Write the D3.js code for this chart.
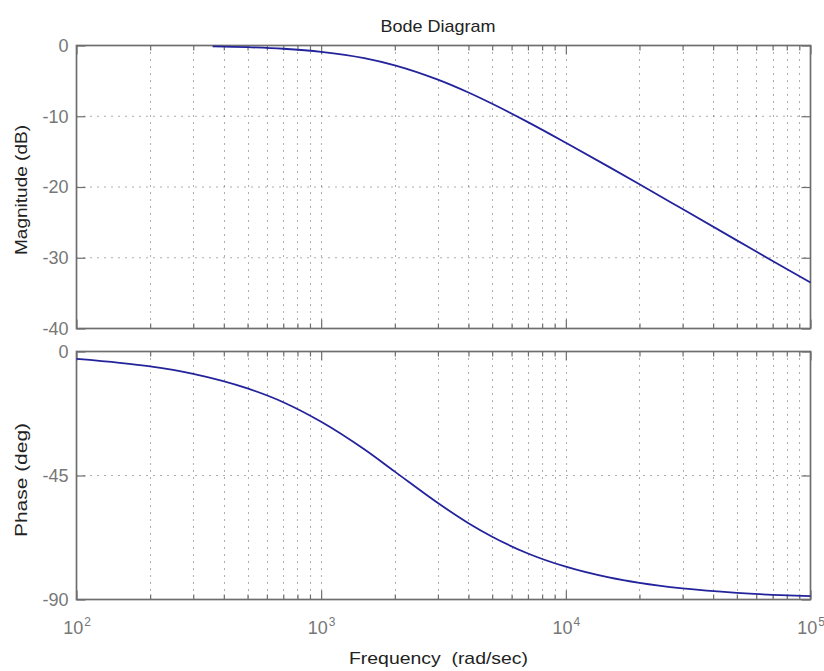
<!DOCTYPE html>
<html>
<head>
<meta charset="utf-8">
<script src="https://cdn.jsdelivr.net/npm/d3@7"></script>
<style>
  html, body { margin: 0; padding: 0; background: #fff; }
  svg { display: block; font-family: "Liberation Sans", Arial, sans-serif; }
</style>
</head>
<body>
<svg id="chart" width="824" height="671"></svg>
<script>
// ---- Data ----
const magFreq = [360, 500, 700, 1000, 1500, 2000, 3000, 4000, 5000, 7000, 10000, 15000, 20000, 30000, 50000, 70000, 100000];
const magDb   = [-0.13, -0.24, -0.46, -0.89, -1.78, -2.8, -4.83, -6.65, -8.24, -10.83, -13.75, -17.16, -19.62, -23.12, -27.54, -30.46, -33.5];

const phaseFreq = [100, 150, 200, 300, 500, 700, 1000, 1500, 2000, 3000, 4000, 5000, 7000, 10000, 15000, 20000, 30000, 50000, 70000, 100000];
const phaseDeg  = [-2.7, -4.1, -5.4, -8.1, -13.4, -18.4, -25.5, -35.5, -43.6, -55.0, -62.3, -67.2, -73.3, -78.1, -82.0, -84.0, -86.0, -87.6, -88.3, -88.8];

const magTicks = [0, -10, -20, -30, -40];
const phaseTicks = [0, -45, -90];
const decadeTicks = [100, 1000, 10000, 100000];
const decadeExponents = ["2", "3", "4", "5"];
const minorMultipliers = [2, 3, 4, 5, 6, 7, 8, 9];

const titleText = "Bode Diagram";
const xLabelText = "Frequency  (rad/sec)";
const magLabelText = "Magnitude (dB)";
const phaseLabelText = "Phase (deg)";

// ---- Layout ----
const svg = d3.select("#chart");
const left = 76.5, right = 810.5;
const panels = [
  { top: 45.5, bottom: 328.5, domain: [-40, 0], ticks: magTicks, freq: magFreq, vals: magDb, label: magLabelText, labelY: 190, labelLen: 130, showX: false },
  { top: 351.5, bottom: 599.5, domain: [-90, 0], ticks: phaseTicks, freq: phaseFreq, vals: phaseDeg, label: phaseLabelText, labelY: 480, labelLen: 114, showX: true }
];

const x = d3.scaleLog().domain([100, 100000]).range([left, right]);
const minorTicks = [];
decadeTicks.slice(0, -1).forEach(d => minorMultipliers.forEach(m => minorTicks.push(d * m)));

const gridColor = "#333";
const frameColor = "#6e6e6e";
const tickLabelColor = "#777";
const lineColor = "#23239c";

panels.forEach(p => {
  const y = d3.scaleLinear().domain(p.domain).range([p.bottom, p.top]);
  const g = svg.append("g");

  // grid
  const gridX = minorTicks.concat(decadeTicks.slice(1, -1));
  g.append("g").selectAll("line").data(gridX).join("line")
    .attr("x1", d => Math.round(x(d)) + 0.5).attr("x2", d => Math.round(x(d)) + 0.5)
    .attr("y1", p.top).attr("y2", p.bottom)
    .attr("stroke", gridColor).attr("stroke-width", 1).attr("stroke-dasharray", "1,6").attr("opacity", 0.8);
  g.append("g").selectAll("line").data(p.ticks).join("line")
    .attr("x1", left).attr("x2", right)
    .attr("y1", d => y(d)).attr("y2", d => y(d))
    .attr("stroke", gridColor).attr("stroke-width", 1).attr("stroke-dasharray", "1,6").attr("opacity", 0.8);

  // frame
  g.append("rect").attr("x", left).attr("y", p.top).attr("width", right - left).attr("height", p.bottom - p.top)
    .attr("fill", "none").attr("stroke", frameColor).attr("stroke-width", 1.7);

  const styleAxis = sel => {
    sel.select(".domain").remove();
    sel.selectAll(".tick line").attr("stroke", frameColor).attr("stroke-width", 1.2);
  };
  // x ticks bottom (major + minor) and top
  const xb = g.append("g").attr("transform", `translate(0,${p.bottom})`)
    .call(d3.axisBottom(x).tickValues(decadeTicks).tickSize(-9).tickPadding(12).tickFormat(() => "10"))
    .call(styleAxis);
  xb.append("g").call(d3.axisBottom(x).tickValues(minorTicks).tickSize(-5).tickFormat("")).call(styleAxis);
  if (p.showX) {
    xb.selectAll(".tick text")
      .attr("fill", tickLabelColor).attr("font-size", 18).attr("font-family", "Liberation Sans, Arial, sans-serif")
      .attr("dy", "1.25em")
      .each(function(d, i) {
        d3.select(this).append("tspan").attr("dy", "-0.7em").attr("dx", "1").attr("font-size", 12).text(decadeExponents[i]);
      });
  } else {
    xb.selectAll(".tick text").remove();
  }
  const xt = g.append("g").attr("transform", `translate(0,${p.top})`)
    .call(d3.axisTop(x).tickValues(decadeTicks).tickSize(-9).tickFormat(""))
    .call(styleAxis);
  xt.append("g").call(d3.axisTop(x).tickValues(minorTicks).tickSize(-5).tickFormat("")).call(styleAxis);

  // y ticks left with labels, right without
  const yl = g.append("g").attr("transform", `translate(${left},0)`)
    .call(d3.axisLeft(y).tickValues(p.ticks).tickSize(-9).tickPadding(8).tickFormat(d => String(d)))
    .call(styleAxis);
  yl.selectAll(".tick text").attr("fill", tickLabelColor).attr("font-size", 18)
    .attr("font-family", "Liberation Sans, Arial, sans-serif");
  g.append("g").attr("transform", `translate(${right},0)`)
    .call(d3.axisRight(y).tickValues(p.ticks).tickSize(-9).tickFormat(""))
    .call(styleAxis);

  // curve
  const line = d3.line().x((d, i) => x(p.freq[i])).y(d => y(d)).curve(d3.curveMonotoneX);
  g.append("path").datum(p.vals).attr("d", line)
    .attr("fill", "none").attr("stroke", lineColor).attr("stroke-width", 1.8);

  // y label
  svg.append("text").attr("transform", `translate(27,${p.labelY}) rotate(-90)`)
    .attr("text-anchor", "middle").attr("font-size", 17).attr("fill", "#222")
    .attr("textLength", p.labelLen).attr("lengthAdjust", "spacingAndGlyphs").text(p.label);
});

svg.append("text").attr("x", 438).attr("y", 32).attr("text-anchor", "middle")
  .attr("font-size", 17).attr("fill", "#222")
  .attr("textLength", 115).attr("lengthAdjust", "spacingAndGlyphs").text(titleText);
svg.append("text").attr("x", 438.5).attr("y", 664).attr("text-anchor", "middle")
  .attr("font-size", 17).attr("fill", "#222").attr("xml:space", "preserve").style("white-space", "pre")
  .attr("textLength", 179).attr("lengthAdjust", "spacingAndGlyphs").text(xLabelText);
</script>
</body>
</html>
